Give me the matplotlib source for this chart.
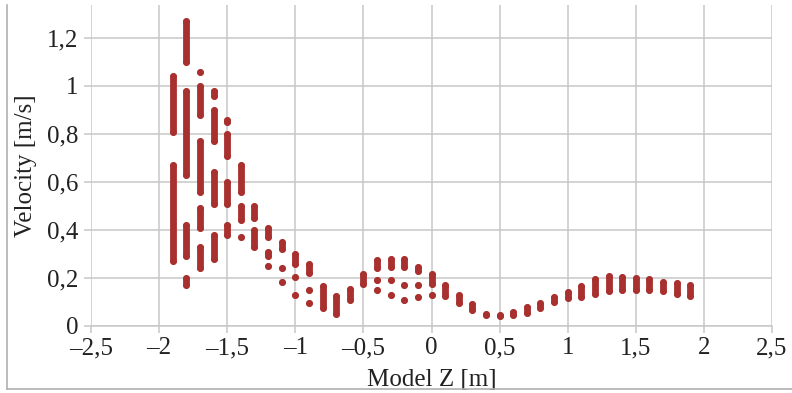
import matplotlib
matplotlib.use("Agg")
import matplotlib.pyplot as plt
from matplotlib.lines import Line2D

# Each entry: column position (Model Z), lower and upper velocity of a vertical run of points
seg_x = [-1.9, -1.9,
         -1.8, -1.8, -1.8, -1.8,
         -1.7, -1.7, -1.7, -1.7, -1.7,
         -1.6, -1.6, -1.6, -1.6,
         -1.5, -1.5, -1.5, -1.5,
         -1.4, -1.4, -1.4,
         -1.3, -1.3,
         -1.2, -1.2, -1.2,
         -1.1, -1.1, -1.1,
         -1.0, -1.0, -1.0,
         -0.9, -0.9, -0.9,
         -0.8, -0.7, -0.6, -0.5,
         -0.4, -0.4, -0.4,
         -0.3, -0.3, -0.3,
         -0.2, -0.2, -0.2,
         -0.1, -0.1, -0.1,
         0.0, 0.0,
         0.1, 0.2, 0.3, 0.4, 0.5, 0.6, 0.7, 0.8, 0.9, 1.0,
         1.1, 1.2, 1.3, 1.4, 1.5, 1.6, 1.7, 1.8, 1.9]
seg_lo = [0.81, 0.27,
          1.10, 0.63, 0.29, 0.17,
          1.06, 0.88, 0.56, 0.41, 0.24,
          0.96, 0.77, 0.51, 0.28,
          0.85, 0.71, 0.51, 0.38,
          0.56, 0.44, 0.37,
          0.45, 0.33,
          0.37, 0.29, 0.25,
          0.32, 0.24, 0.185,
          0.26, 0.205, 0.13,
          0.22, 0.15, 0.095,
          0.075, 0.05, 0.11, 0.175,
          0.24, 0.19, 0.15,
          0.245, 0.19, 0.13,
          0.245, 0.17, 0.11,
          0.23, 0.17, 0.12,
          0.175, 0.13,
          0.125, 0.095, 0.065, 0.045, 0.043, 0.045, 0.055, 0.075, 0.10, 0.115,
          0.12, 0.135, 0.145, 0.15, 0.15, 0.15, 0.145, 0.135, 0.125]
seg_hi = [1.04, 0.67,
          1.27, 0.98, 0.42, 0.20,
          1.06, 1.00, 0.77, 0.49, 0.33,
          0.98, 0.90, 0.64, 0.38,
          0.86, 0.80, 0.60, 0.42,
          0.67, 0.50, 0.37,
          0.50, 0.40,
          0.41, 0.31, 0.25,
          0.35, 0.24, 0.185,
          0.30, 0.205, 0.13,
          0.26, 0.15, 0.095,
          0.165, 0.125, 0.155, 0.215,
          0.275, 0.19, 0.15,
          0.28, 0.19, 0.13,
          0.28, 0.17, 0.11,
          0.245, 0.17, 0.12,
          0.215, 0.13,
          0.17, 0.13, 0.09, 0.05, 0.045, 0.06, 0.08, 0.095, 0.12, 0.14,
          0.165, 0.195, 0.21, 0.205, 0.20, 0.195, 0.185, 0.18, 0.17]

x_ticks = [-2.5, -2, -1.5, -1, -0.5, 0, 0.5, 1, 1.5, 2, 2.5]
x_tick_labels = ["\u20132,5", "\u20132", "\u20131,5", "\u20131", "\u20130,5", "0",
                 "0,5", "1", "1,5", "2", "2,5"]
y_ticks = [0, 0.2, 0.4, 0.6, 0.8, 1.0, 1.2]
y_tick_labels = ["0", "0,2", "0,4", "0,6", "0,8", "1", "1,2"]

color = "#a8302e"
grid_c = "#c8c8c8"

plt.rcParams["font.family"] = ["Liberation Serif", "DejaVu Serif"]

fig = plt.figure(figsize=(7.92, 3.93), dpi=100)
ax = fig.add_axes([91 / 792, 1 - 326 / 393, (772 - 91) / 792, (326 - 5) / 393])

lw_px = 6.8
lw_pt = lw_px * 72 / 100
ax.vlines(seg_x, seg_lo, seg_hi, colors=color, linewidth=lw_pt, capstyle="round", zorder=3)
ax.scatter(seg_x + seg_x, seg_lo + seg_hi, s=lw_pt ** 2, color=color, linewidths=0, zorder=3)

ax.set_xlim(-2.5, 2.5)
ax.set_ylim(0, 1.3375)
ax.set_xticks(x_ticks)
ax.set_xticklabels(x_tick_labels)
ax.set_yticks(y_ticks)
ax.set_yticklabels(y_tick_labels)
ax.grid(True, color=grid_c, linewidth=1.1, zorder=0)
ax.set_axisbelow(True)
for s in ["top", "right", "left"]:
    ax.spines[s].set_visible(False)
ax.spines["bottom"].set_color(grid_c)
ax.spines["bottom"].set_linewidth(1.1)
ax.tick_params(axis="both", colors=grid_c, labelcolor="#222222", labelsize=18,
               length=5, width=1.1)
ax.tick_params(axis="y", pad=4)
ax.tick_params(axis="x", pad=3)

ax.set_xlabel("Model Z [m]", fontsize=18, color="#222222", labelpad=7)
ax.set_ylabel("Velocity [m/s]", fontsize=18, color="#222222", labelpad=7)

# outer frame (left and bottom edges)
fig.add_artist(Line2D([7 / 792, 7 / 792], [1 - 389 / 393, 1 - 5 / 393],
                      transform=fig.transFigure, color="#b0b0b0", linewidth=1.2))
fig.add_artist(Line2D([7 / 792, 1.0], [1 - 389 / 393, 1 - 389 / 393],
                      transform=fig.transFigure, color="#b0b0b0", linewidth=1.2))

fig.savefig("out.png", dpi=100)
